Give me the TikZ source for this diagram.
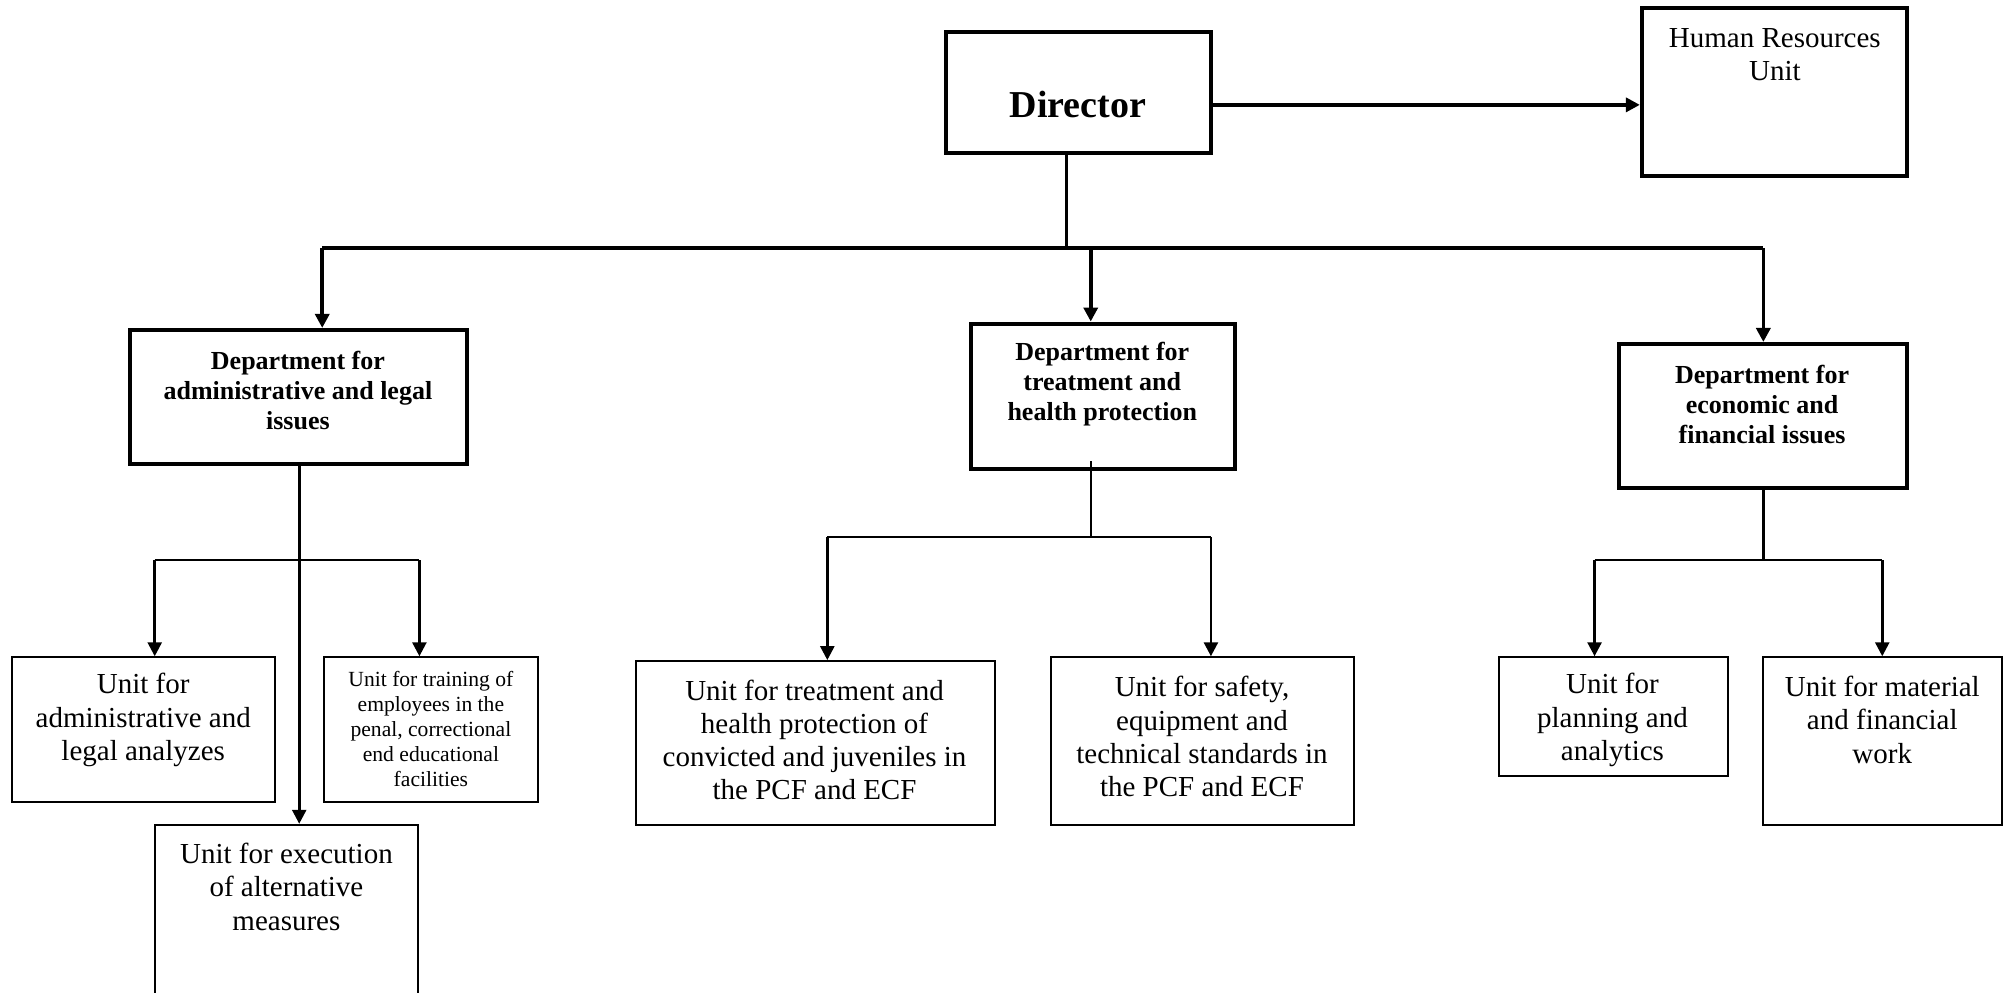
\documentclass[tikz,border=0pt]{standalone}
\usepackage{fontspec}
\setmainfont{Liberation Serif}
\usetikzlibrary{arrows.meta,calc}
\begin{document}
\begin{tikzpicture}[x=0.63935pt,y=-0.63935pt,
  sz/.style 2 args={minimum width=#1*0.63935pt, minimum height=#2*0.63935pt},
  thickbox/.style={draw, line width=2pt, inner sep=0pt},
  thinbox/.style={draw, line width=1pt, inner sep=0pt},
  txt/.style={align=center, inner sep=0pt},
  dirfont/.style={font=\fontsize{19}{22}\selectfont\bfseries},
  deptfont/.style={font=\fontsize{13}{15}\selectfont\bfseries},
  unitfont/.style={font=\fontsize{14.5}{16.6}\selectfont},
  smallfont/.style={font=\fontsize{10.8}{12.5}\selectfont},
  arr/.style={-{Triangle[length=7pt,width=7pt]}},
  heavy/.style={line width=1.8pt},
  mid/.style={line width=1.3pt},
  light/.style={line width=1pt},
]
\clip (0,0) rectangle (1568,776);
\fill[white] (0,0) rectangle (1568,776);

% boxes
\node[thickbox, sz={207}{95}]  (dir)  at (843.5,72.5) {};
\node[thickbox, sz={207}{132}] (hr)   at (1387.5,72) {};
\node[thickbox, sz={263}{105}] (d1)   at (233.5,310.5) {};
\node[thickbox, sz={207}{114}] (d2)   at (862.5,310) {};
\node[thickbox, sz={225}{113}] (d3)   at (1378.5,325.5) {};
\node[thinbox, sz={206}{113}]  (u1)   at (112,570.5) {};
\node[thinbox, sz={168}{113}]  (u2)   at (337,570.5) {};
\node[thinbox, sz={206}{160}]  (u3)   at (224,725) {};
\node[thinbox, sz={281}{128}]  (u4)   at (637.5,581) {};
\node[thinbox, sz={237}{131}]  (u5)   at (940.5,579.5) {};
\node[thinbox, sz={179}{93}]   (u6)   at (1261.5,560.5) {};
\node[thinbox, sz={187}{131}]  (u7)   at (1472.5,579.5) {};

% texts
\node[txt, dirfont] at (843,82) {Director};
\node[txt, unitfont] at (1388,43) {Human Resources\\Unit};
\node[txt, deptfont] at (233,305.5) {Department for\\administrative and legal\\issues};
\node[txt, deptfont] at (862,300) {Department for\\treatment and\\health protection};
\node[txt, deptfont] at (1378,316) {Department for\\economic and\\financial issues};
\node[txt, unitfont] at (112,563) {Unit for\\administrative and\\legal analyzes};
\node[txt, smallfont] at (337,570) {Unit for training of\\employees in the\\penal, correctional\\end educational\\facilities};
\node[txt, unitfont] at (224,693.5) {Unit for execution\\of alternative\\measures};
\node[txt, unitfont] at (637,578.5) {Unit for treatment and\\health protection of\\convicted and juveniles in\\the PCF and ECF};
\node[txt, unitfont] at (940,576) {Unit for safety,\\equipment and\\technical standards in\\the PCF and ECF};
\node[txt, unitfont] at (1261,563) {Unit for\\planning and\\analytics};
\node[txt, unitfont] at (1472,563) {Unit for material\\and financial\\work};

% connector coordinates
\coordinate (hry) at (947,82);
\coordinate (bus) at (834,194);
\coordinate (b1) at (252,194);
\coordinate (b2) at (853,194);
\coordinate (b3) at (1379,194);
\coordinate (s1) at (234,438);
\coordinate (s1l) at (121,438);
\coordinate (s1r) at (328,438);
\coordinate (s2) at (853,420);
\coordinate (s2l) at (647,420);
\coordinate (s2r) at (947,420);
\coordinate (s3) at (1379,438);
\coordinate (s3l) at (1247,438);
\coordinate (s3r) at (1472,438);

% director connectors
\draw[heavy, arr] (dir.east |- hry) -- (hr.west |- hry);
\draw[heavy] (bus |- dir.south) -- (bus);
\draw[heavy] (b1) -- (b3);
\draw[heavy, arr] (b1) -- (b1 |- d1.north);
\draw[heavy, arr] (b2) -- (b2 |- d2.north);
\draw[heavy, arr] (b3) -- (b3 |- d3.north);

% department 1
\draw[mid, arr] (s1 |- d1.south) -- (s1 |- u3.north);
\draw[mid] (s1l) -- (s1r);
\draw[mid, arr] (s1l) -- (s1l |- u1.north);
\draw[mid, arr] (s1r) -- (s1r |- u2.north);

% department 2
\draw[light] ([yshift=5pt]s2 |- d2.south) -- (s2);
\draw[mid] (s2l) -- (s2r);
\draw[mid, arr] (s2l) -- (s2l |- u4.north);
\draw[mid, arr] (s2r) -- (s2r |- u5.north);

% department 3
\draw[mid] (s3 |- d3.south) -- (s3);
\draw[mid] (s3l) -- (s3r);
\draw[mid, arr] (s3l) -- (s3l |- u6.north);
\draw[mid, arr] (s3r) -- (s3r |- u7.north);
\end{tikzpicture}
\end{document}
